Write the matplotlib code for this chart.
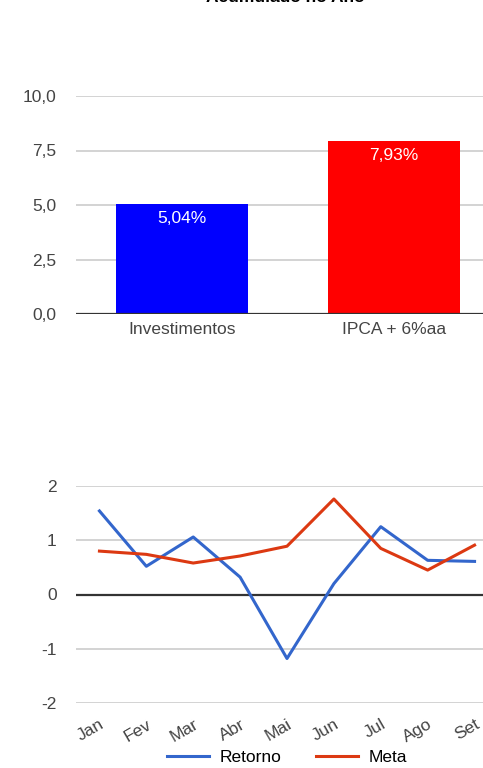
import matplotlib.pyplot as plt
import numpy as np

plt.rcParams['font.family'] = ['Liberation Sans', 'DejaVu Sans']
plt.rcParams['axes.unicode_minus'] = False

# ----- data -----
bar_labels = ['Investimentos', 'IPCA + 6%aa']
bar_values = [5.04, 7.93]
bar_colors = ['#0000ff', '#ff0000']

months = ['Jan', 'Fev', 'Mar', 'Abr', 'Mai', 'Jun', 'Jul', 'Ago', 'Set']
retorno = [1.54, 0.52, 1.06, 0.32, -1.18, 0.20, 1.25, 0.63, 0.61]
meta = [0.80, 0.74, 0.58, 0.71, 0.89, 1.76, 0.85, 0.45, 0.91]

W, H = 483, 768
fig = plt.figure(figsize=(W / 100, H / 100), dpi=100)

def px_axes(left, top, right, bottom):
    return fig.add_axes([left / W, 1 - bottom / H, (right - left) / W, (bottom - top) / H])

tick_col = '#444444'
fs = 12.5

# title (cut off at top of image, as in the source)
fig.text(285 / W, 1 - 2 / H, 'Acumulado no Ano', ha='center', va='baseline',
         fontsize=fs, fontweight='bold', color='#000000')

# ----- bar chart -----
ax1 = px_axes(76, 96, 500, 314)
x = np.arange(len(bar_labels))
bars = ax1.bar(x, bar_values, width=0.623, color=bar_colors, zorder=3)
ax1.set_xlim(-0.5, 1.5)
ax1.set_ylim(0, 10)
ax1.set_yticks([0, 2.5, 5, 7.5, 10])
ax1.set_yticklabels(['0,0', '2,5', '5,0', '7,5', '10,0'])
ax1.set_xticks(x)
ax1.set_xticklabels(bar_labels)
ax1.grid(axis='y', color='#cccccc', linewidth=1.2, zorder=0)
ax1.axhline(0, color='#333333', linewidth=1.6, zorder=4)
for s in ax1.spines.values():
    s.set_visible(False)
ax1.tick_params(length=0, labelsize=fs, labelcolor=tick_col, pad=6)
ax1.tick_params(axis='y', pad=14)
for b, v in zip(bars, bar_values):
    ax1.annotate(f'{v:.2f}%'.replace('.', ','), (b.get_x() + b.get_width() / 2, v),
                 xytext=(0, -10), textcoords='offset points', ha='center', va='center',
                 color='white', fontsize=fs, zorder=5)

# ----- line chart -----
ax2 = px_axes(76, 486, 498, 703)
xm = np.arange(len(months))
ax2.plot(xm, retorno, color='#3366cc', linewidth=2.2, label='Retorno', zorder=3)
ax2.plot(xm, meta, color='#dc3912', linewidth=2.2, label='Meta', zorder=3)
ax2.set_xlim(-0.5, len(months) - 0.5)
ax2.set_ylim(-2, 2)
ax2.set_yticks([-2, -1, 0, 1, 2])
ax2.set_xticks(xm)
ax2.set_xticklabels(months, rotation=30, ha='right', rotation_mode='anchor')
ax2.grid(axis='y', color='#cccccc', linewidth=1.2, zorder=0)
ax2.axhline(0, color='#333333', linewidth=1.6, zorder=2)
for s in ax2.spines.values():
    s.set_visible(False)
ax2.tick_params(length=0, labelsize=fs, labelcolor=tick_col)
ax2.tick_params(axis='y', pad=14)
ax2.tick_params(axis='x', pad=10)

fig.legend(loc='center', bbox_to_anchor=(287 / W, 1 - 757 / H), ncol=2, frameon=False,
           fontsize=fs, handlelength=2.4, columnspacing=2.0, handletextpad=0.6)

plt.savefig('out.png', dpi=100)
